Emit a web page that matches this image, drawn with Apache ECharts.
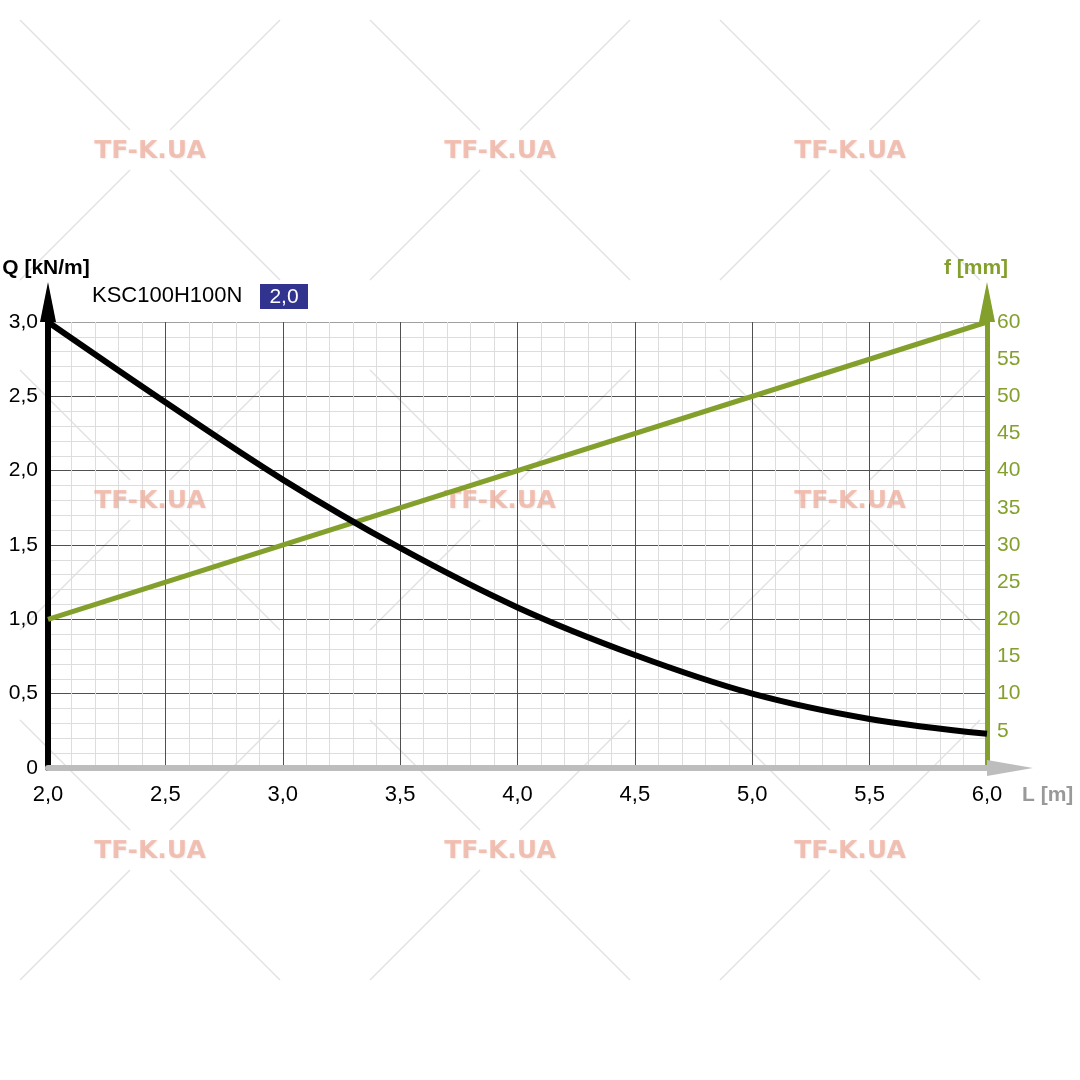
<!DOCTYPE html>
<html>
<head>
<meta charset="utf-8">
<script src="https://cdn.jsdelivr.net/npm/echarts@6/dist/echarts.min.js"></script>
<style>
  html, body { margin: 0; padding: 0; background: #fff; }
  #chart1 { width: 1080px; height: 1080px; }
</style>
</head>
<body>
<div id="chart1"></div>
<script>
// spans L [m]
var spans = [2.0, 2.5, 3.0, 3.5, 4.0, 4.5, 5.0, 5.5, 6.0];
// load Q [kN/m]
var loadQ = [3.0, 2.46, 1.94, 1.48, 1.08, 0.76, 0.50, 0.33, 0.23];
// deflection f [mm]
var defSpans = [2.0, 6.0];
var defF = [20, 60];

var green = '#84a02c';
var font = '"Liberation Sans", Arial, sans-serif';

function comma(v) {
    if (v === 0) return '0';
    return v.toFixed(1).replace('.', ',');
}

// watermark crosses + text
var marks = [];
[150, 500, 850].forEach(function (cy) {
    [150, 500, 850].forEach(function (cx) {
        var segs = [
            [cx - 130, cy - 130, cx - 20, cy - 20],
            [cx + 20, cy + 20, cx + 130, cy + 130],
            [cx + 130, cy - 130, cx + 20, cy - 20],
            [cx - 20, cy + 20, cx - 130, cy + 130]
        ];
        segs.forEach(function (s) {
            marks.push({
                type: 'line', z: -10, silent: true,
                shape: { x1: s[0], y1: s[1], x2: s[2], y2: s[3] },
                style: { stroke: '#e2e2e2', lineWidth: 1.5 }
            });
        });
        marks.push({
            type: 'text', z: 1, silent: true, x: cx, y: cy + 1,
            style: {
                text: 'TF-K.UA', fill: 'rgba(240,170,150,0.7)',
                font: 'bold 25px "DejaVu Sans", sans-serif',
                textAlign: 'center', textVerticalAlign: 'middle',
                textShadowColor: 'rgba(0,0,0,0.1)', textShadowBlur: 2,
                textShadowOffsetX: 1, textShadowOffsetY: 1
            }
        });
    });
});

marks.push(
    { type: 'text', x: 46, y: 268, style: { text: 'Q [kN/m]', fill: '#000', font: 'bold 21px ' + font, textAlign: 'center', textVerticalAlign: 'middle' } },
    { type: 'text', x: 976, y: 268, style: { text: 'f [mm]', fill: green, font: 'bold 21px ' + font, textAlign: 'center', textVerticalAlign: 'middle' } },
    { type: 'text', x: 1022, y: 795, style: { text: 'L [m]', fill: '#999', font: 'bold 21px ' + font, textAlign: 'left', textVerticalAlign: 'middle' } },
    { type: 'text', x: 92, y: 296, style: { text: 'KSC100H100N', fill: '#000', font: '22px ' + font, textAlign: 'left', textVerticalAlign: 'middle' } },
    { type: 'rect', shape: { x: 260, y: 284, width: 48, height: 25 }, style: { fill: '#31338f' } },
    { type: 'text', x: 284, y: 297, style: { text: '2,0', fill: '#fff', font: '21px ' + font, textAlign: 'center', textVerticalAlign: 'middle' } }
);

var chart = echarts.init(document.getElementById('chart1'));
chart.setOption({
    animation: false,
    backgroundColor: '#fff',
    grid: { left: 48, right: 93, top: 322, bottom: 312 },
    graphic: marks,
    xAxis: {
        type: 'value', min: 2, max: 6, interval: 0.5,
        axisLine: {
            show: true, onZero: false,
            lineStyle: { color: '#bdbdbd', width: 6 },
            symbol: ['none', 'triangle'], symbolSize: [16, 46], symbolOffset: [0, 23]
        },
        axisTick: { show: false },
        axisLabel: { formatter: comma, color: '#000', fontSize: 22, fontFamily: font, margin: 16 },
        splitLine: { show: true, lineStyle: { color: '#505050', width: 1 } },
        minorTick: { show: false, splitNumber: 5 },
        minorSplitLine: { show: true, lineStyle: { color: '#dddddd', width: 1 } }
    },
    yAxis: [
        {
            type: 'value', min: 0, max: 3, interval: 0.5, position: 'left',
            axisLine: {
                show: true, onZero: false,
                lineStyle: { color: '#000', width: 6 },
                symbol: ['none', 'triangle'], symbolSize: [16, 40], symbolOffset: [0, 20]
            },
            axisTick: { show: false },
            axisLabel: { formatter: comma, color: '#000', fontSize: 21, fontFamily: font, margin: 10 },
            splitLine: { show: true, lineStyle: { color: ['#505050', '#505050', '#505050', '#505050', '#505050', '#505050', '#a0a0a0'], width: 1 } },
            minorTick: { show: false, splitNumber: 5 },
            minorSplitLine: { show: true, lineStyle: { color: '#dddddd', width: 1 } }
        },
        {
            type: 'value', min: 0, max: 60, interval: 5, position: 'right',
            axisLine: {
                show: true, onZero: false,
                lineStyle: { color: green, width: 5 },
                symbol: ['none', 'triangle'], symbolSize: [16, 40], symbolOffset: [0, 20]
            },
            axisTick: { show: false },
            axisLabel: {
                formatter: function (v) { return v === 0 ? '' : String(v); },
                color: green, fontSize: 21, fontFamily: font, margin: 10
            },
            splitLine: { show: false }
        }
    ],
    series: [
        {
            name: 'Q', type: 'line', yAxisIndex: 0, smooth: 0.35,
            showSymbol: false, z: 3,
            lineStyle: { color: '#000', width: 6 },
            data: spans.map(function (l, i) { return [l, loadQ[i]]; })
        },
        {
            name: 'f', type: 'line', yAxisIndex: 1,
            showSymbol: false, z: 2,
            lineStyle: { color: green, width: 5 },
            data: defSpans.map(function (l, i) { return [l, defF[i]]; })
        }
    ]
});
</script>
</body>
</html>
